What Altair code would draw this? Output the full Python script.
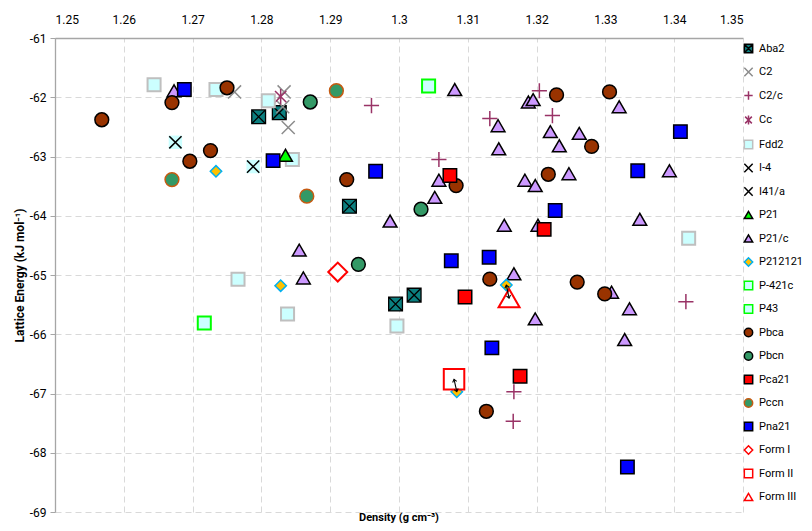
import altair as alt
import pandas as pd

FONT = "Roboto, Liberation Sans, sans-serif"

series = ["Aba2", "C2", "C2/c", "Cc", "Fdd2", "I-4", "I41/a", "P21", "P21/c",
          "P212121", "P-421c", "P43", "Pbca", "Pbcn", "Pca21", "Pccn", "Pna21",
          "Form I", "Form II", "Form III"]

aba2_d = [1.2796, 1.2826, 1.2928, 1.2995, 1.3022]
aba2_e = [-62.33, -62.26, -63.84, -65.49, -65.34]
c2_d = [1.2761, 1.2833, 1.2831, 1.2839]
c2_e = [-61.91, -61.91, -62.16, -62.51]
c2c_d = [1.2960, 1.3058, 1.3132, 1.3204, 1.3223, 1.3417, 1.3167, 1.3166]
c2c_e = [-62.14, -63.05, -62.36, -61.89, -62.31, -65.45, -66.97, -67.47]
cc_d = [1.2828]
cc_e = [-61.99]
fdd2_d = [1.2644, 1.2734, 1.2810, 1.2845, 1.2766, 1.2838, 1.2997, 1.3421]
fdd2_e = [-61.79, -61.87, -62.06, -63.05, -65.07, -65.66, -65.86, -64.38]
i4_d = [1.2675]
i4_e = [-62.76]
i41a_d = [1.2788]
i41a_e = [-63.17]
p21_d = [1.2835]
p21_e = [-62.98]
p21c_d = [1.2673, 1.3081, 1.3188, 1.3195, 1.3144, 1.3220, 1.3262, 1.3233, 1.3145,
          1.3320, 1.3058, 1.3052, 1.3247, 1.3183, 1.3198, 1.3393, 1.2987, 1.3153,
          1.3202, 1.3350, 1.2855, 1.2861, 1.3167, 1.3309, 1.3335, 1.3198, 1.3328]
p21c_e = [-61.89, -61.87, -62.08, -62.04, -62.48, -62.58, -62.61, -62.82, -62.87,
          -62.16, -63.40, -63.69, -63.29, -63.40, -63.49, -63.24, -64.09, -64.16,
          -64.16, -64.06, -64.58, -65.05, -64.98, -65.29, -65.57, -65.74, -66.09]
p212121_d = [1.2734, 1.2828, 1.3156, 1.3084]
p212121_e = [-63.25, -65.18, -65.17, -66.97]
p421c_d = [1.2717]
p421c_e = [-65.81]
p43_d = [1.3043]
p43_e = [-61.81]
pbca_d = [1.2568, 1.2670, 1.2750, 1.2696, 1.2726, 1.2924, 1.3083, 1.3229, 1.3306,
          1.3280, 1.3217, 1.3132, 1.3259, 1.3299, 1.3127]
pbca_e = [-62.38, -62.09, -61.84, -63.08, -62.90, -63.39, -63.49, -61.96, -61.91,
          -62.83, -63.30, -65.07, -65.12, -65.32, -67.30]
pbcn_d = [1.2871, 1.3032, 1.2941]
pbcn_e = [-62.08, -63.89, -64.82]
pca21_d = [1.3074, 1.3211, 1.3096, 1.3176]
pca21_e = [-63.32, -64.23, -65.37, -66.71]
pccn_d = [1.2909, 1.2670, 1.2866]
pccn_e = [-61.89, -63.39, -63.67]
pna21_d = [1.2688, 1.2817, 1.2966, 1.3227, 1.3076, 1.3131, 1.3135, 1.3347, 1.3409, 1.3332]
pna21_e = [-61.87, -63.07, -63.25, -63.91, -64.76, -64.70, -66.23, -63.24, -62.58, -68.24]
form1_d = [1.2911]
form1_e = [-64.95]
form2_d = [1.3080]
form2_e = [-66.76]
form3_d = [1.3160]
form3_e = [-65.39]

x_ticks = [1.25, 1.26, 1.27, 1.28, 1.29, 1.30, 1.31, 1.32, 1.33, 1.34, 1.35]
y_ticks = [-69, -68, -67, -66, -65, -64, -63, -62, -61]

values = {
    "Aba2": (aba2_d, aba2_e), "C2": (c2_d, c2_e), "C2/c": (c2c_d, c2c_e),
    "Cc": (cc_d, cc_e), "Fdd2": (fdd2_d, fdd2_e), "I-4": (i4_d, i4_e),
    "I41/a": (i41a_d, i41a_e), "P21": (p21_d, p21_e), "P21/c": (p21c_d, p21c_e),
    "P212121": (p212121_d, p212121_e), "P-421c": (p421c_d, p421c_e),
    "P43": (p43_d, p43_e), "Pbca": (pbca_d, pbca_e), "Pbcn": (pbcn_d, pbcn_e),
    "Pca21": (pca21_d, pca21_e), "Pccn": (pccn_d, pccn_e), "Pna21": (pna21_d, pna21_e),
    "Form I": (form1_d, form1_e), "Form II": (form2_d, form2_e), "Form III": (form3_d, form3_e),
}

XP = "M-1,-1L1,1M1,-1L-1,1"
SQX = "M-1,-1H1V1H-1Z M-1,-1L1,1 M1,-1L-1,1"
PLUS = "M0,-1V1M-1,0H1"
AST = "M-0.8,-0.8L0.8,0.8M0.8,-0.8L-0.8,0.8M0,-1.1V1.1"
CHEV = "M-0.7,0.9L0,0L0.7,0.9"

style = {
    "Aba2": (SQX, "#0b7f7f", "#000000", 190, 1.3),
    "C2": (XP, "#8c8c8c", "#8c8c8c", 170, 1.5),
    "C2/c": (PLUS, "#993366", "#993366", 230, 1.5),
    "Cc": (AST, "#993366", "#993366", 200, 1.5),
    "Fdd2": ("square", "#ccffff", "#bfbfbf", 170, 2),
    "I-4": (XP, "#000000", "#000000", 150, 1.5),
    "I41/a": (XP, "#000000", "#000000", 150, 1.5),
    "P21": ("triangle-up", "#00ff00", "#000000", 190, 1.5),
    "P21/c": ("triangle-up", "#cc99ff", "#000000", 190, 1.5),
    "P212121": ("diamond", "#ffc000", "#00b0f0", 130, 1.5),
    "P-421c": ("square", "#ccffff", "#00ff00", 170, 2),
    "P43": ("square", "#ccffff", "#00ff00", 170, 2),
    "Pbca": ("circle", "#993300", "#000000", 190, 1.5),
    "Pbcn": ("circle", "#339966", "#000000", 190, 1.5),
    "Pca21": ("square", "#ff0000", "#000000", 180, 1.5),
    "Pccn": ("circle", "#339966", "#c55a11", 190, 1.5),
    "Pna21": ("square", "#0000ff", "#000000", 180, 1.5),
    "Form I": ("diamond", "#ffffff", "#ff0000", 360, 2),
    "Form II": ("square", "#ffffff", "#ff0000", 420, 2),
    "Form III": ("triangle-up", "#ffffff", "#ff0000", 440, 2),
}

rows = []
for g in series:
    ds, es = values[g]
    for d, e in zip(ds, es):
        rows.append({"group": g, "density": d, "energy": e,
                     "sz": style[g][3], "sw": style[g][4]})
df = pd.DataFrame(rows)

arrows = pd.DataFrame({
    "d1": [p212121_d[3], p212121_d[2]], "e1": [p212121_e[3], p212121_e[2]],
    "d2": [form2_d[0], form3_d[0]], "e2": [form2_e[0], form3_e[0]],
})
heads = pd.DataFrame({
    "d": [form2_d[0], p212121_d[3], form3_d[0], p212121_d[2]],
    "e": [form2_e[0], p212121_e[3], form3_e[0], p212121_e[2]],
    "ang": [346, 166, 167, 347],
})

xscale = alt.Scale(domain=[1.25, 1.35], nice=False, zero=False)
yscale = alt.Scale(domain=[-69, -61], nice=False, zero=False)

legend = alt.Legend(title=" ", titleFontSize=2, titlePadding=3,
                    orient="right", offset=0, padding=0,
                    labelFont=FONT, labelFontSize=11, labelColor="#000000",
                    symbolSize=70, symbolStrokeWidth=1.5, rowPadding=8.5,
                    labelOffset=5)

X = alt.X("density:Q", scale=xscale,
          axis=alt.Axis(orient="top", values=x_ticks, format=".2~f", title=None,
                        ticks=False, labelPadding=12))
Y = alt.Y("energy:Q", scale=yscale,
          axis=alt.Axis(values=y_ticks, format="d",
                        labelExpr="datum.value < 0 ? '-' + abs(datum.value) : '' + datum.value",
                        title="Lattice Energy (kJ mol⁻¹)",
                        tickSize=5, labelPadding=4, titlePadding=3))

bg = alt.Chart(df).transform_filter(
    alt.FieldOneOfPredicate(field="group", oneOf=["I-4", "I41/a"])
).mark_square(color="#ccffff", size=180, opacity=1).encode(x=X, y=Y)

pts = alt.Chart(df).mark_point(filled=True, opacity=1).encode(
    x=X, y=Y,
    shape=alt.Shape("group:N", scale=alt.Scale(domain=series, range=[style[g][0] for g in series]), legend=legend),
    fill=alt.Fill("group:N", scale=alt.Scale(domain=series, range=[style[g][1] for g in series]), legend=legend),
    stroke=alt.Stroke("group:N", scale=alt.Scale(domain=series, range=[style[g][2] for g in series]), legend=legend),
    size=alt.Size("sz:Q", scale=None, legend=None),
    strokeWidth=alt.StrokeWidth("sw:Q", scale=None, legend=None),
)

arr = alt.Chart(arrows).mark_rule(color="#000000", strokeWidth=1.1).encode(
    x=alt.X("d1:Q", scale=xscale), y=alt.Y("e1:Q", scale=yscale),
    x2="d2:Q", y2="e2:Q")

hd = alt.Chart(heads).mark_point(shape=CHEV, size=36, stroke="#000000", strokeWidth=1.1,
                                  filled=False, opacity=1).encode(
    x=alt.X("d:Q", scale=xscale), y=alt.Y("e:Q", scale=yscale),
    angle=alt.Angle("ang:Q", scale=None))

chart = alt.layer(bg, pts, arr, hd).properties(
    width=796, height=515,
    autosize=alt.AutoSizeParams(type="fit", contains="padding"),
    padding={"left": 5, "top": 5, "right": 0, "bottom": 0},
    title=alt.TitleParams("Density (g cm⁻³)", orient="bottom", font=FONT, fontSize=11,
                          fontWeight="bold", offset=-6, anchor="middle", frame="group"),
).configure_view(stroke=None).configure_axis(
    labelFont=FONT, labelFontSize=12, labelColor="#000000",
    titleFont=FONT, titleFontSize=12, titleFontWeight="bold", titleColor="#000000",
    domainColor="#a6a6a6", domainWidth=1.3, tickColor="#a6a6a6",
    gridColor="#d9d9d9", gridDash=[6, 4], gridWidth=1,
)

chart.save("out.html", embed_options={"renderer": "svg", "actions": False})
